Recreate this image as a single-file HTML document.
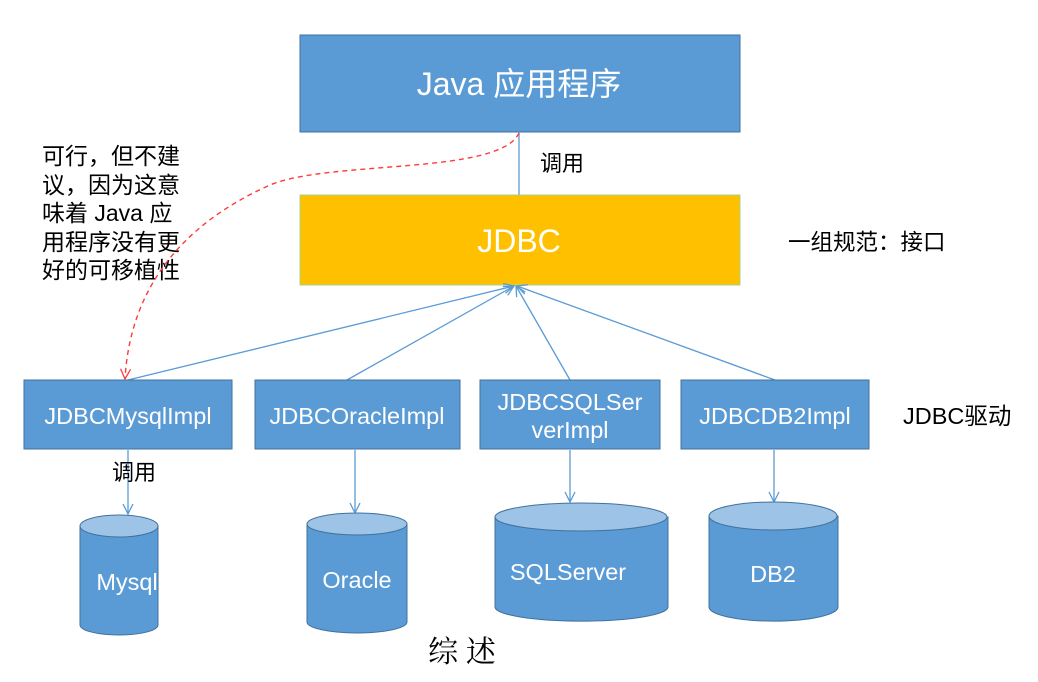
<!DOCTYPE html>
<html><head><meta charset="utf-8"><style>
html,body{margin:0;padding:0;background:#fff;}
svg{display:block;}
text{font-family:"Liberation Sans","Noto Sans CJK SC",sans-serif;}
</style></head><body>
<svg width="1038" height="682" viewBox="0 0 1038 682" xmlns="http://www.w3.org/2000/svg">
<defs>
<marker id="ab" viewBox="0 0 12 12" refX="11" refY="6" markerWidth="12" markerHeight="12" markerUnits="userSpaceOnUse" orient="auto"><path d="M1,1 L11,6 L1,11" fill="none" stroke="#5b9bd5" stroke-width="1.3"/></marker>
<marker id="ar" viewBox="0 0 12 12" refX="11" refY="6" markerWidth="12" markerHeight="12" markerUnits="userSpaceOnUse" orient="auto"><path d="M1,1 L11,6 L1,11" fill="none" stroke="#ff3b3b" stroke-width="1.3"/></marker>
</defs>
<rect x="300" y="35" width="440" height="97" fill="#5b9bd5" stroke="#41719c" stroke-width="1"/>
<text x="519" y="95" font-size="32" fill="#fff" text-anchor="middle">Java 应用程序</text>
<line x1="519" y1="132" x2="519" y2="195" stroke="#5b9bd5" stroke-width="1.3"/>
<text x="540" y="171" font-size="22" fill="#000">调用</text>
<rect x="300" y="195" width="440" height="90" fill="#ffc000" stroke="#a9d18e" stroke-width="1"/>
<text x="519" y="252" font-size="32" fill="#fff" text-anchor="middle">JDBC</text>
<text x="788" y="250" font-size="22.5" fill="#000">一组规范：接口</text>
<g font-size="23" fill="#000">
<text x="42" y="164">可行，但不建</text>
<text x="42" y="193">议，因为这意</text>
<text x="42" y="221">味着 Java 应</text>
<text x="42" y="250">用程序没有更</text>
<text x="42" y="278">好的可移植性</text>
</g>
<path d="M519,133 C500,175 330,160 270,185 C180,225 130,290 125,379" fill="none" stroke="#ff3b3b" stroke-width="1.4" stroke-dasharray="5,4" marker-end="url(#ar)"/>
<g stroke="#5b9bd5" stroke-width="1.3" fill="none">
<line x1="128" y1="380" x2="514" y2="286" marker-end="url(#ab)"/>
<line x1="347" y1="380" x2="514" y2="286" marker-end="url(#ab)"/>
<line x1="570" y1="380" x2="516" y2="286" marker-end="url(#ab)"/>
<line x1="775" y1="380" x2="517" y2="286" marker-end="url(#ab)"/>
<line x1="128" y1="450" x2="128" y2="514" marker-end="url(#ab)"/>
<line x1="355" y1="450" x2="355" y2="513" marker-end="url(#ab)"/>
<line x1="570" y1="450" x2="570" y2="502" marker-end="url(#ab)"/>
<line x1="774" y1="450" x2="774" y2="502" marker-end="url(#ab)"/>
</g>
<g fill="#5b9bd5" stroke="#41719c" stroke-width="1">
<rect x="24" y="380" width="208" height="69"/>
<rect x="255" y="380" width="205" height="69"/>
<rect x="480" y="380" width="180" height="69"/>
<rect x="681" y="380" width="188" height="69"/>
</g>
<g font-size="23.5" fill="#fff" text-anchor="middle">
<text x="128" y="424">JDBCMysqlImpl</text>
<text x="357" y="424">JDBCOracleImpl</text>
<text x="570" y="410">JDBCSQLSer</text>
<text x="570" y="438">verImpl</text>
<text x="775" y="424">JDBCDB2Impl</text>
</g>
<text x="903" y="424" font-size="23.5" fill="#000">JDBC驱动</text>
<text x="112" y="480" font-size="22" fill="#000">调用</text>
<g stroke="#41719c" stroke-width="1">
<path d="M80,526 L80,625 A39,10 0 0 0 158,625 L158,526 Z" fill="#5b9bd5"/>
<ellipse cx="119" cy="526" rx="39" ry="11" fill="#9dc3e6"/>
<path d="M307,524 L307,622 A50,11 0 0 0 407,622 L407,524 Z" fill="#5b9bd5"/>
<ellipse cx="357" cy="524" rx="50" ry="11" fill="#9dc3e6"/>
<path d="M495,517 L495,607 A86,14 0 0 0 668,607 L668,517 Z" fill="#5b9bd5"/>
<ellipse cx="581" cy="517" rx="86" ry="14" fill="#9dc3e6"/>
<path d="M709,516 L709,607 A64,14 0 0 0 838,607 L838,516 Z" fill="#5b9bd5"/>
<ellipse cx="773" cy="516" rx="64" ry="14" fill="#9dc3e6"/>
</g>
<g font-size="23.5" fill="#fff" text-anchor="middle">
<text x="127" y="590">Mysql</text>
<text x="357" y="588">Oracle</text>
<text x="568" y="580">SQLServer</text>
<text x="773" y="582">DB2</text>
</g>
<text x="462" y="662" font-size="30" fill="#000" text-anchor="middle" style="font-family:'Noto Serif CJK SC','Liberation Serif',serif">综 述</text>
</svg>
</body></html>
